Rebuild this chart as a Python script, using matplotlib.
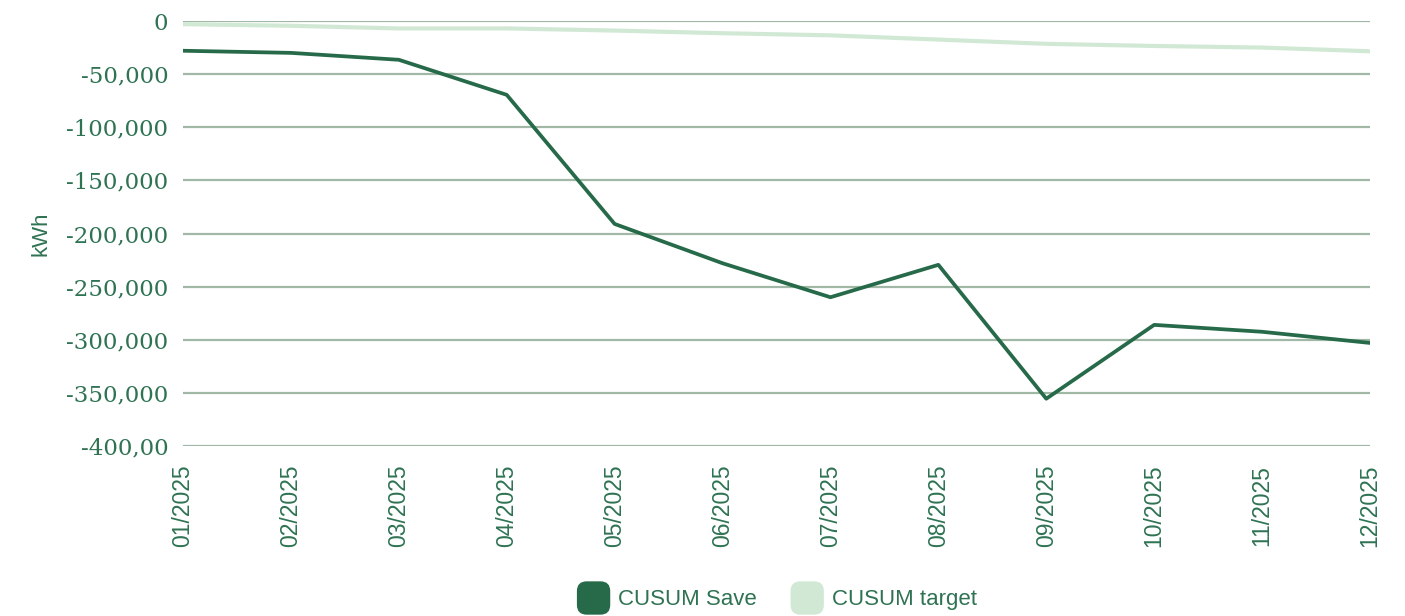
import matplotlib
matplotlib.use("Agg")
import matplotlib.pyplot as plt
from matplotlib.patches import FancyBboxPatch, Rectangle
from matplotlib.legend_handler import HandlerPatch

months = ["01/2025", "02/2025", "03/2025", "04/2025", "05/2025", "06/2025",
          "07/2025", "08/2025", "09/2025", "10/2025", "11/2025", "12/2025"]
cusum_save = [-28000, -30000, -36500, -69500, -191000, -228000,
              -260000, -229500, -355500, -286000, -292500, -303000]
cusum_target = [-3000, -4500, -7000, -7000, -9000, -11500,
                -13500, -17500, -21500, -23500, -25000, -28500]
y_ticks = [0, -50000, -100000, -150000, -200000, -250000, -300000, -350000, -400000]
y_tick_labels = ["0", "-50,000", "-100,000", "-150,000", "-200,000", "-250,000",
                 "-300,000", "-350,000", "-400,00"]

DARK = "#276a4a"
LIGHT = "#d1e9d4"
TEXT = "#2f7353"
GRID = "#a2b8a6"

fig = plt.figure(figsize=(14.05, 6.16), dpi=100)
ax = fig.add_axes([183/1405, 1-446/616, (1370-183)/1405, (446-21)/616])

x = list(range(len(months)))
for yt in y_ticks:
    ax.axhline(yt, color=GRID, lw=1.6, zorder=0)
ax.plot(x, cusum_target, color=LIGHT, lw=3.0, zorder=2, label="CUSUM target")
ax.plot(x, cusum_save, color=DARK, lw=2.7, zorder=3, label="CUSUM Save")

ax.set_xlim(0, len(months)-1)
ax.set_ylim(-400000, 0)
ax.set_yticks(y_ticks)
ax.set_yticklabels(y_tick_labels, fontsize=16.5, color=TEXT, family="DejaVu Serif")
ax.set_xticks(x)
ax.set_xticklabels(months, rotation=90, fontsize=16.5, color=TEXT, family="Liberation Sans")
ax.tick_params(axis="y", length=0, pad=10.5)
ax.tick_params(axis="x", length=0, pad=13.5)
for s in ax.spines.values():
    s.set_visible(False)
ax.set_ylabel("kWh", fontsize=16, color=TEXT, family="Liberation Sans")
ax.yaxis.set_label_coords(-0.111, 0.5)

class RoundBox(HandlerPatch):
    def create_artists(self, legend, orig_handle, xdescent, ydescent, width, height, fontsize, trans):
        s = 24.0  # points
        pad = 3.0
        x0 = xdescent + (width - s) / 2 + pad
        y0 = -ydescent + (height - s) / 2 + pad
        p = FancyBboxPatch((x0, y0), s - 2 * pad, s - 2 * pad,
                           boxstyle="round,pad=3,rounding_size=7",
                           facecolor=orig_handle.get_facecolor(), edgecolor="none", transform=trans)
        return [p]

h1 = Rectangle((0, 0), 1, 1, facecolor=DARK)
h2 = Rectangle((0, 0), 1, 1, facecolor=LIGHT)
leg = fig.legend([h1, h2], ["CUSUM Save", "CUSUM target"], loc="center",
                 bbox_to_anchor=(777/1405, 1-598/616), ncol=2, frameon=False,
                 handler_map={Rectangle: RoundBox()}, handlelength=1.5, handleheight=1.5,
                 handletextpad=0.37, columnspacing=1.5,
                 prop={"family": "Liberation Sans", "size": 16})
for t in leg.get_texts():
    t.set_color(TEXT)

fig.savefig("out.png", dpi=100)
